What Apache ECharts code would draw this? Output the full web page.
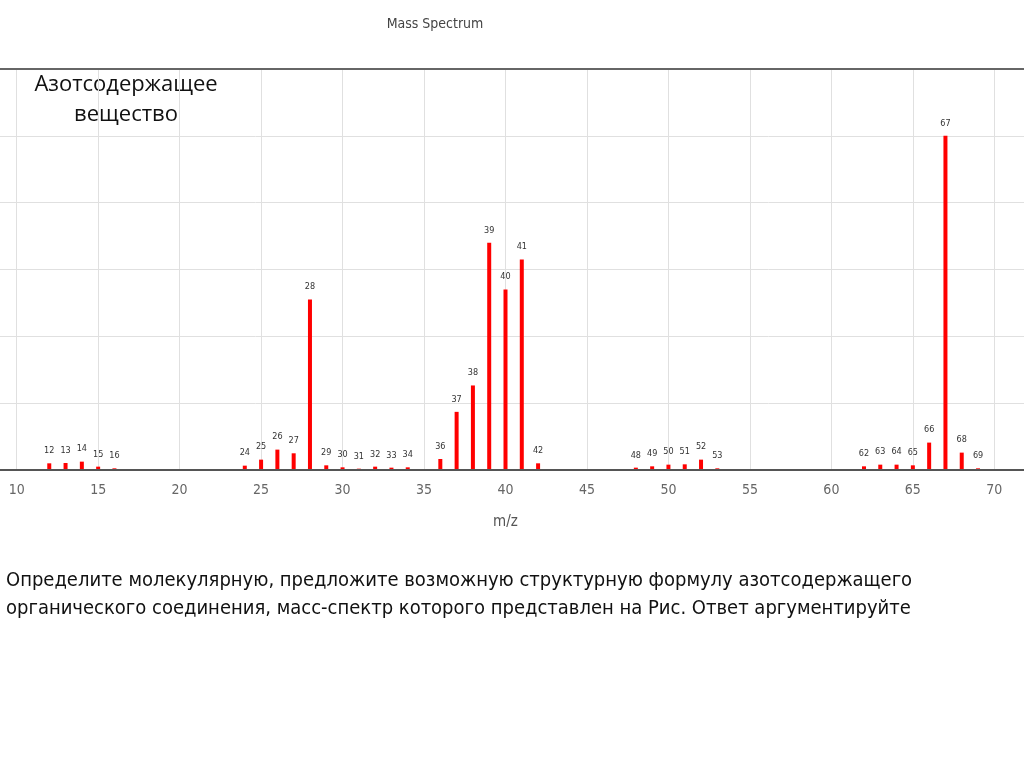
<!DOCTYPE html>
<html>
<head>
<meta charset="utf-8">
<script src="https://cdn.jsdelivr.net/npm/echarts@6/dist/echarts.min.js"></script>
<style>
html,body{margin:0;padding:0;background:#fff;}
#main{width:1024px;height:767px;}
</style>
</head>
<body>
<div id="main"></div>
<script>
const mzValues = [12,13,14,15,16,24,25,26,27,28,29,30,31,32,33,34,36,37,38,39,40,41,42,48,49,50,51,52,53,62,63,64,65,66,67,68,69];
const intensities = [2.0,2.1,2.5,1.0,0.5,1.3,3.1,6.1,5.0,51,1.4,0.8,0.4,1.0,0.7,0.8,3.3,17.4,25.3,68,54,63,2.0,0.7,1.1,1.6,1.7,3.1,0.5,1.1,1.6,1.6,1.4,8.2,100,5.2,0.5];
const chartTitle = 'Mass Spectrum';
const xAxisName = 'm/z';
const sideNote = 'Азотсодержащее\nвещество';
const question = 'Определите молекулярную, предложите возможную структурную формулу азотсодержащего\nорганического соединения, масс-спектр которого представлен на Рис. Ответ аргументируйте';

const narrow = "'DejaVu Sans Condensed', 'Liberation Sans', sans-serif";
const chart = echarts.init(document.getElementById('main'));
const data = mzValues.map((m, i) => [m, intensities[i]]);
chart.setOption({
  animation: false,
  backgroundColor: '#fff',
  grid: {left: -64.8, right: -51.8, top: 69, bottom: 297, outerBoundsMode: 'none', containLabel: false},
  xAxis: {
    type: 'value', min: 5, max: 75, interval: 5,
    name: xAxisName, nameLocation: 'middle', nameGap: 45,
    nameTextStyle: {fontFamily: narrow, fontSize: 15, color: '#555'},
    axisLine: {show: false},
    axisTick: {show: false},
    axisLabel: {margin: 13, fontFamily: narrow, fontSize: 14, color: '#666'},
    splitLine: {show: true, lineStyle: {color: '#e0e0e0', width: 1}}
  },
  yAxis: {
    type: 'value', min: 0, max: 120, interval: 20,
    axisLine: {show: false}, axisTick: {show: false}, axisLabel: {show: false},
    splitLine: {show: true, lineStyle: {color: '#e0e0e0', width: 1}}
  },
  series: [{
    type: 'bar',
    data: data,
    barWidth: 4,
    itemStyle: {color: '#ff0000'},
    label: {
      show: true, position: 'top', distance: 8,
      formatter: p => String(p.value[0]),
      fontFamily: narrow, fontSize: 9, color: '#333'
    },
    markLine: {
      silent: true, symbol: 'none', label: {show: false},
      data: [
        {yAxis: 0, lineStyle: {color: '#555', width: 2, type: 'solid'}},
        {yAxis: 120, lineStyle: {color: '#666', width: 2, type: 'solid'}}
      ]
    }
  }],
  graphic: [
    {type: 'text', x: 435, y: 17, style: {text: chartTitle, fontFamily: narrow, fontSize: 14, fill: '#444', align: 'center'}},
    {type: 'text', x: 126, y: 70, style: {text: sideNote, fontFamily: "'Open Sans', sans-serif", fontSize: 22, fill: '#111', align: 'center', lineHeight: 30}},
    {type: 'text', x: 6, y: 567, style: {text: question, fontFamily: narrow, fontSize: 20, fill: '#111', lineHeight: 28}}
  ]
});
</script>
</body>
</html>
